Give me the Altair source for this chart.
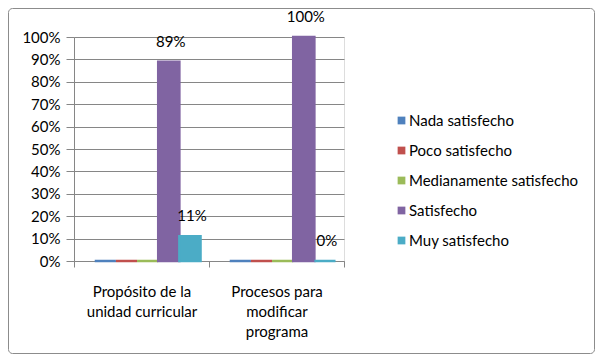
import altair as alt
import pandas as pd

categories = ["Propósito de la unidad curricular", "Procesos para modificar programa"]
series = ["Nada satisfecho", "Poco satisfecho", "Medianamente satisfecho", "Satisfecho", "Muy satisfecho"]
values_cat1 = [0, 0, 0, 89, 11]
values_cat2 = [0, 0, 0, 100, 0]
colors = ["#4F81BD", "#C0504D", "#9BBB59", "#8064A2", "#4BACC6"]
labeled_series = ["Satisfecho", "Muy satisfecho"]
y_ticks = [0, 0.1, 0.2, 0.3, 0.4, 0.5, 0.6, 0.7, 0.8, 0.9, 1.0]

rows = []
for cat, vals in zip(categories, [values_cat1, values_cat2]):
    for s, v in zip(series, vals):
        rows.append({"cat": cat, "serie": s, "valor": v / 100,
                     "label": f"{v}%" if s in labeled_series else ""})
df = pd.DataFrame(rows)

FONT = "Lato"
label_expr = ("datum.label == 'Propósito de la unidad curricular' ? "
              "['Propósito de la', 'unidad curricular'] : "
              "(datum.label == 'Procesos para modificar programa' ? "
              "['Procesos para', 'modificar', 'programa'] : '')")

x_enc = alt.X("cat:N", sort=categories,
              scale=alt.Scale(paddingInner=0, paddingOuter=0),
              axis=alt.Axis(title=None, labelAngle=0, labelExpr=label_expr,
                            tickBand="extent", tickSize=6, tickColor="#868686",
                            domainColor="#868686", labelPadding=17,
                            labelFontSize=15, labelFont=FONT, labelColor="#000000",
                            labelLineHeight=20, grid=False))
xo_enc = alt.XOffset("serie:N", sort=series,
                     scale=alt.Scale(paddingOuter=0.69, paddingInner=0, align=0.71))
y_enc = alt.Y("valor:Q", scale=alt.Scale(domain=[0, 1]),
              axis=alt.Axis(title=None, format=".0%", values=y_ticks,
                            tickSize=8, tickColor="#868686", domainColor="#868686",
                            gridColor="#868686", labelPadding=6,
                            labelFontSize=15, labelFont=FONT, labelColor="#000000"))

color_enc = alt.Color("serie:N", sort=series,
                      scale=alt.Scale(domain=series, range=colors),
                      legend=alt.Legend(title=None, orient="none", legendX=320, legendY=76,
                                        symbolType="square", symbolSize=60,
                                        symbolStrokeWidth=0, labelFontSize=15,
                                        labelFont=FONT, labelColor="#000000",
                                        rowPadding=14, labelOffset=0, padding=0,
                                        labelLimit=300))

bars = alt.Chart(df).mark_bar(strokeWidth=2.5).encode(
    x=x_enc, xOffset=xo_enc, y=y_enc, color=color_enc,
    stroke=alt.Stroke("serie:N", sort=series,
                      scale=alt.Scale(domain=series, range=colors), legend=None),
)

texts = alt.Chart(df).mark_text(dy=-20, dx=2, fontSize=15, font=FONT, color="#000000").encode(
    x=x_enc, xOffset=xo_enc, y=y_enc, text="label:N",
)

frame = alt.Chart(pd.DataFrame({"k": [0]})).mark_rect(
    fill=None, stroke="#8c8c8c", strokeWidth=1, cornerRadius=4
).encode(x=alt.value(-65.5), x2=alt.value(520.5), y=alt.value(-28.5), y2=alt.value(316.5))

chart = alt.layer(frame, bars, texts).properties(
    width=270, height=224,
    autosize=alt.AutoSizeParams(type="none"),
    padding={"left": 66, "top": 29, "right": 251, "bottom": 93},
).configure_view(stroke=None).configure(background="#ffffff")

chart.save("out.html", embed_options={"renderer": "svg", "actions": False})
